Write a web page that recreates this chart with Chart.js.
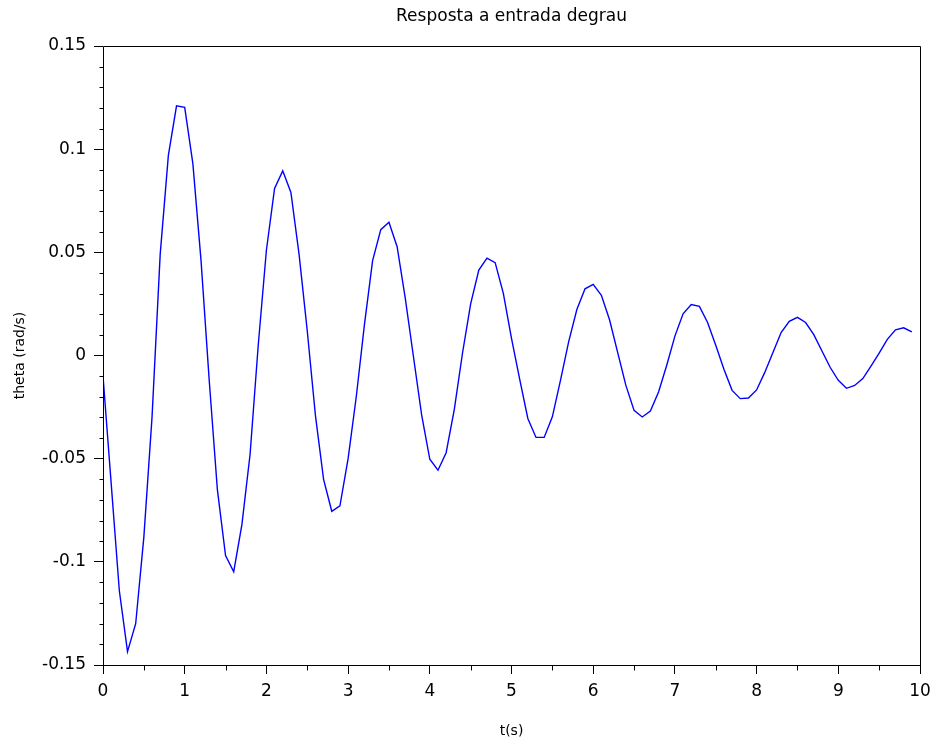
<!DOCTYPE html>
<html>
<head>
<meta charset="utf-8">
<title>Resposta a entrada degrau</title>
<script src="https://cdn.jsdelivr.net/npm/chart.js@4.4.1/dist/chart.umd.min.js"></script>
<style>
  html, body { margin: 0; padding: 0; background: #ffffff; }
  canvas { display: block; }
</style>
</head>
<body>
<canvas id="stepChart" width="937" height="744"></canvas>
<script>
// Sample instants (s)
const tSeconds = [
  0.0, 0.1, 0.2, 0.3, 0.4, 0.5, 0.6, 0.7, 0.8, 0.9,
  1.0, 1.1, 1.2, 1.3, 1.4, 1.5, 1.6, 1.7, 1.8, 1.9,
  2.0, 2.1, 2.2, 2.3, 2.4, 2.5, 2.6, 2.7, 2.8, 2.9,
  3.0, 3.1, 3.2, 3.3, 3.4, 3.5, 3.6, 3.7, 3.8, 3.9,
  4.0, 4.1, 4.2, 4.3, 4.4, 4.5, 4.6, 4.7, 4.8, 4.9,
  5.0, 5.1, 5.2, 5.3, 5.4, 5.5, 5.6, 5.7, 5.8, 5.9,
  6.0, 6.1, 6.2, 6.3, 6.4, 6.5, 6.6, 6.7, 6.8, 6.9,
  7.0, 7.1, 7.2, 7.3, 7.4, 7.5, 7.6, 7.7, 7.8, 7.9,
  8.0, 8.1, 8.2, 8.3, 8.4, 8.5, 8.6, 8.7, 8.8, 8.9,
  9.0, 9.1, 9.2, 9.3, 9.4, 9.5, 9.6, 9.7, 9.8, 9.9
];

// Angular velocity response (rad/s)
const thetaRadS = [
  -0.0100, -0.0620, -0.1140, -0.1435, -0.1300, -0.0880, -0.0300, 0.0490, 0.0970, 0.1210,
   0.1203,  0.0930,  0.0460, -0.0120, -0.0650, -0.0970, -0.1048, -0.0820, -0.0480, 0.0050,
   0.0510,  0.0810,  0.0895,  0.0790,  0.0490,  0.0120, -0.0290, -0.0600, -0.0755, -0.0729,
  -0.0500, -0.0200,  0.0150,  0.0460,  0.0610,  0.0646,  0.0527,  0.0277, -0.0006, -0.0288,
  -0.0503, -0.0556, -0.0471, -0.0261,  0.0011,  0.0250,  0.0414,  0.0472,  0.0450,  0.0301,
   0.0083, -0.0115, -0.0305, -0.0397, -0.0397, -0.0297, -0.0119,  0.0067,  0.0223,  0.0323,
   0.0345,  0.0292,  0.0173,  0.0014, -0.0145, -0.0266, -0.0298, -0.0269, -0.0177, -0.0047,
   0.0094,  0.0202,  0.0247,  0.0238,  0.0160,  0.0050, -0.0067, -0.0169, -0.0209, -0.0206,
  -0.0167, -0.0082,  0.0015,  0.0111,  0.0166,  0.0185,  0.0160,  0.0101,  0.0022, -0.0057,
  -0.0120, -0.0159, -0.0145, -0.0112, -0.0051,  0.0012,  0.0078,  0.0124,  0.0134,  0.0114
];

// Axis ticks and labels
const xTickValues = [0, 1, 2, 3, 4, 5, 6, 7, 8, 9, 10];
const xTickLabels = ['0', '1', '2', '3', '4', '5', '6', '7', '8', '9', '10'];
const yTickValues = [-0.15, -0.1, -0.05, 0, 0.05, 0.1, 0.15];
const yTickLabels = ['-0.15', '-0.1', '-0.05', '0', '0.05', '0.1', '0.15'];

const chartTitle = 'Resposta a entrada degrau';
const xAxisTitle = 't(s)';
const yAxisTitle = 'theta (rad/s)';

const tickFont  = { family: '"DejaVu Sans", Verdana, sans-serif', size: 17 };
const labelFont = { family: '"DejaVu Sans", Verdana, sans-serif', size: 14 };
const titleFont = { family: '"DejaVu Sans", Verdana, sans-serif', size: 17 };

// White page, plot frame and the small intermediate ticks
const frameAndMinorTicks = {
  id: 'frameAndMinorTicks',
  beforeDraw(chart) {
    const ctx = chart.ctx;
    ctx.save();
    ctx.fillStyle = '#ffffff';
    ctx.fillRect(0, 0, chart.width, chart.height);
    ctx.restore();
  },
  afterDraw(chart) {
    const { ctx, chartArea: a, scales } = chart;
    const xs = scales.x, ys = scales.y;
    const crisp = v => Math.round(v) + 0.5;
    const left = crisp(a.left), right = crisp(a.right);
    const top = crisp(a.top), bottom = crisp(a.bottom);
    ctx.save();
    ctx.strokeStyle = '#000000';
    ctx.lineWidth = 1;
    ctx.beginPath();
    ctx.moveTo(left, top); ctx.lineTo(right, top);
    ctx.lineTo(right, bottom); ctx.lineTo(left, bottom);
    ctx.closePath();
    for (let i = 0; i < xTickValues.length - 1; i++) {
      const xp = crisp(xs.getPixelForValue((xTickValues[i] + xTickValues[i + 1]) / 2));
      ctx.moveTo(xp, bottom);
      ctx.lineTo(xp, bottom + 5);
    }
    for (let i = 0; i < yTickValues.length - 1; i++) {
      const lo = yTickValues[i], hi = yTickValues[i + 1];
      for (let s = 1; s < 5; s++) {
        const yp = crisp(ys.getPixelForValue(lo + (hi - lo) * s / 5));
        ctx.moveTo(left - 4, yp);
        ctx.lineTo(left, yp);
      }
    }
    ctx.stroke();
    ctx.restore();
  }
};

new Chart(document.getElementById('stepChart'), {
  type: 'line',
  data: {
    datasets: [{
      label: yAxisTitle,
      data: tSeconds.map((t, i) => ({ x: t, y: thetaRadS[i] })),
      borderColor: '#0000ff',
      backgroundColor: '#0000ff',
      borderWidth: 1.4,
      pointRadius: 0,
      tension: 0,
      fill: false
    }]
  },
  options: {
    responsive: false,
    animation: false,
    devicePixelRatio: 1,
    layout: { padding: { left: 0, top: 0, right: 17, bottom: 0 } },
    plugins: {
      legend: { display: false },
      tooltip: { enabled: false },
      title: { display: false }
    },
    scales: {
      x: {
        type: 'linear',
        position: 'bottom',
        min: 0,
        max: 10,
        afterBuildTicks: s => { s.ticks = xTickValues.map(v => ({ value: v })); },
        afterFit: s => { s.height = 79; s.paddingLeft = 0; s.paddingRight = 0; },
        ticks: {
          callback: (v, i) => xTickLabels[i],
          font: tickFont,
          color: '#000000',
          padding: 7,
          maxRotation: 0,
          autoSkip: false
        },
        grid: {
          display: true,
          drawOnChartArea: false,
          drawTicks: true,
          tickLength: 9,
          tickColor: '#000000',
          tickWidth: 1
        },
        border: { display: false },
        title: {
          display: true,
          text: xAxisTitle,
          font: labelFont,
          color: '#000000',
          padding: { top: 0, bottom: 4 }
        }
      },
      xTop: {
        type: 'linear',
        axis: 'x',
        position: 'top',
        min: 0,
        max: 10,
        ticks: { display: false },
        grid: { display: false },
        border: { display: false },
        afterFit: s => { s.height = 46; s.paddingLeft = 0; s.paddingRight = 0; },
        title: {
          display: true,
          text: chartTitle,
          font: titleFont,
          color: '#000000',
          padding: { top: 6, bottom: 0 }
        }
      },
      y: {
        type: 'linear',
        position: 'left',
        min: -0.15,
        max: 0.15,
        afterBuildTicks: s => { s.ticks = yTickValues.map(v => ({ value: v })); },
        afterFit: s => { s.width = 103; s.paddingTop = 0; s.paddingBottom = 0; },
        ticks: {
          callback: (v, i) => yTickLabels[i],
          font: tickFont,
          color: '#000000',
          padding: 8,
          autoSkip: false
        },
        grid: {
          display: true,
          drawOnChartArea: false,
          drawTicks: true,
          tickLength: 9,
          tickColor: '#000000',
          tickWidth: 1
        },
        border: { display: false },
        title: {
          display: true,
          text: yAxisTitle,
          font: labelFont,
          color: '#000000',
          padding: { top: 12, bottom: 0 }
        }
      }
    }
  },
  plugins: [frameAndMinorTicks]
});
</script>
</body>
</html>
